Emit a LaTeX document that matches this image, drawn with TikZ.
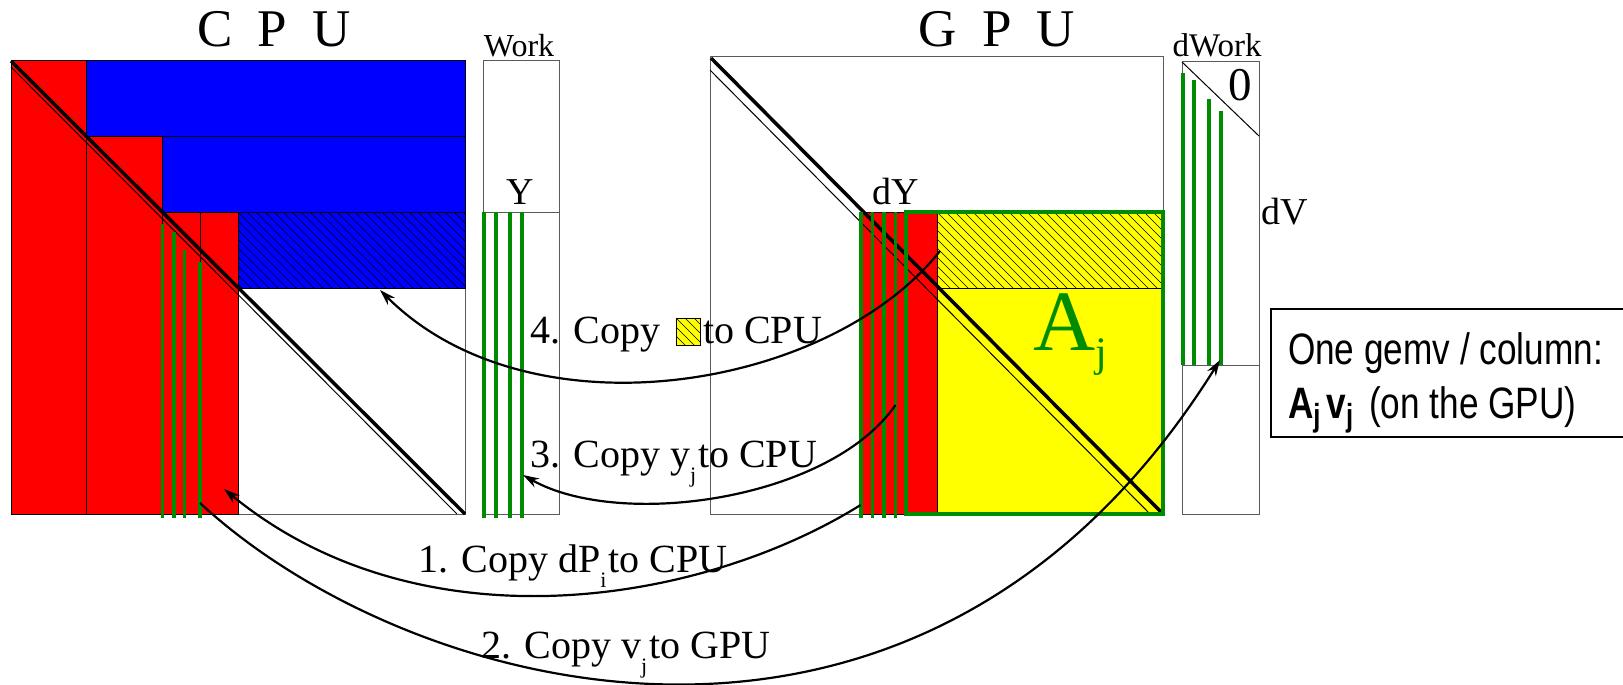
\documentclass[tikz,border=0pt]{standalone}
\usepackage{fontspec}
\setmainfont{Liberation Serif}
\newfontfamily\narrowsf[FakeStretch=0.8]{Liberation Sans}
\usetikzlibrary{arrows.meta}
\definecolor{fgreen}{RGB}{0,140,0}
\definecolor{fred}{RGB}{255,0,0}
\definecolor{fblue}{RGB}{0,0,255}
\definecolor{fyellow}{RGB}{255,255,0}
\definecolor{edgegray}{RGB}{90,90,90}
\newcommand{\fsz}[1]{\fontsize{#1}{#1}\selectfont}
\newcommand{\hatchbox}[4]{%
  \begin{scope}
    \clip (#1,#2) rectangle (#3,#4);
    \foreach \k in {-126,-117,...,400}
      \draw[hatchln] ({#1+\k},#2) -- ({#1+\k+130},{#2+130});
  \end{scope}}
\begin{document}
\begin{tikzpicture}[x=1pt,y=-1pt,
  lbl/.style={inner sep=0pt, outer sep=0pt, anchor=base},
  lblw/.style={inner sep=0pt, outer sep=0pt, anchor=base west},
  blk/.style={draw=black, line width=1pt},
  frame/.style={draw=edgegray, line width=1pt},
  gln/.style={draw=fgreen, line width=3.5pt},
  hatchln/.style={draw=black, line width=0.5pt},
  thickdiag/.style={draw=black, line width=3.5pt},
  thindiag/.style={draw=black, line width=1pt},
  conn/.style={draw=black, line width=2.2pt},
  arr/.style={conn, -{Stealth[length=16pt,width=10pt]}},
]
\useasboundingbox (0,0) rectangle (1623,685);

% titles
\node[lbl, font=\fsz{53}] (cputitle) at (274,47) {C\hspace{25pt}P\hspace{25pt}U};
\node[lbl, font=\fsz{53}] (gputitle) at (997,47) {G\hspace{25pt}P\hspace{25pt}U};

% CPU matrix
\draw[frame] (11,61) rectangle (465,514);
\filldraw[fill=fred, blk] (11,61) rectangle (86,514);
\filldraw[fill=fred, blk] (86,136) rectangle (162.5,514);
\filldraw[fill=fred, blk] (162.5,212) rectangle (238,514);
\draw[blk] (200,212) -- (200,514);
\filldraw[fill=fblue, blk] (86,61) rectangle (465,136);
\filldraw[fill=fblue, blk] (162.5,136) rectangle (465,212);
\filldraw[fill=fblue, blk] (238,212) rectangle (465,288);
\hatchbox{238}{212}{465}{288}
\draw[blk] (238,212) rectangle (465,288);
\draw[thindiag] (11,67) -- (457,514);
\draw[thickdiag] (11,61) -- (465,514);
\foreach \gx/\gt in {162.5/224, 174/232, 184.6/250, 200/262}
  \draw[gln] (\gx,\gt) -- (\gx,518);

% Work
\node[lbl, font=\fsz{32}] (worklbl) at (519,57) {Work};
\draw[frame] (483,61) rectangle (559,514);
\draw[frame] (483,212) -- (559,212);
\node[lbl, font=\fsz{38}] (ylbl) at (520,204) {Y};
\foreach \gx in {484,496,510,522} \draw[gln] (\gx,212) -- (\gx,518);

% GPU matrix
\draw[frame] (710,57) rectangle (1163,514);
\fill[fyellow] (937,212) rectangle (1163,514);
\hatchbox{937}{212}{1163}{288}
\draw[blk] (937,288) -- (1163,288);
\filldraw[fill=fred, blk] (860,212) rectangle (937,514);
\draw[thindiag] (710,70) -- (1150,514);
\draw[thickdiag] (711,58) -- (1163,514);
\foreach \gx in {861,872.5,884,895.5} \draw[gln] (\gx,212) -- (\gx,518);
\draw[draw=fgreen, line width=3.5pt] (906,212) rectangle (1163,514);
\node[lbl, font=\fsz{38}] (dylbl) at (896,204) {dY};
\node[lblw, font=\fsz{86}, text=fgreen] (alabel) at (1033,350) {A\raisebox{-16pt}{\fsz{42}j}};

% dWork
\node[lbl, font=\fsz{33}] (dworklbl) at (1217,57) {dWork};
\draw[frame] (1182,62) rectangle (1259,514);
\draw[frame] (1182,365) -- (1259,365);
\draw[thindiag] (1182,62) -- (1259,136);
\node[lbl, font=\fsz{47}] (zerolbl) at (1240,100) {0};
\foreach \gx/\gt in {1183/73,1194/80,1209/99,1221/111} \draw[gln] (\gx,\gt) -- (\gx,365);
\node[lblw, font=\fsz{38}] (dvlbl) at (1261,224) {dV};

% note box
\draw[line width=1.3pt] (1271,309) rectangle (1626,437);
\node[lblw, font=\narrowsf\fsz{44}] (gemv1) at (1288,364) {One gemv / column:};
\node[lblw, font=\narrowsf\fsz{44}] (gemv2) at (1288,418) {\textbf{A}\raisebox{-8pt}{\fsz{32}\bfseries j}\hspace{6pt}\textbf{v}\raisebox{-8pt}{\fsz{32}\bfseries j}\hspace{16pt}(on the GPU)};

% step labels
\node[lblw, font=\fsz{40}] (l1) at (418,572) {1. Copy dP\raisebox{-15pt}{\fsz{22}i}\hspace{2pt}to CPU};
\node[lblw, font=\fsz{40}] (l2) at (481,658) {2. Copy v\raisebox{-15pt}{\fsz{22}j}\hspace{2pt}to GPU};
\node[lblw, font=\fsz{40}] (l3) at (530,467) {3. Copy y\raisebox{-15pt}{\fsz{22}j}\hspace{2pt}to CPU};
\node[lblw, font=\fsz{40}] (l4a) at (530,343) {4. Copy};
\fill[fyellow] (676,318) rectangle (700,345);
\hatchbox{676}{318}{700}{345}
\draw[blk] (676,318) rectangle (700,345);
\node[lblw, font=\fsz{40}] (l4b) at (703,343) {to CPU};

% arrows
\coordinate (a4s) at (940,251); \coordinate (a4e) at (380,290);
\draw[arr] (a4s) .. controls (830,390) and (530,440) .. (a4e);
\coordinate (a3s) at (895.5,405); \coordinate (a3e) at (523,475);
\draw[arr] (a3s) .. controls (830,500) and (620,530) .. (a3e);
\coordinate (a1s) at (860.6,505); \coordinate (a1e) at (224,489);
\draw[arr] (a1s) .. controls (700,605) and (420,650) .. (a1e);
\coordinate (a2s) at (200,503); \coordinate (a2e) at (1220,360);
\draw[arr] (a2s) .. controls (407,695) and (920,840) .. (a2e);
\end{tikzpicture}
\end{document}
